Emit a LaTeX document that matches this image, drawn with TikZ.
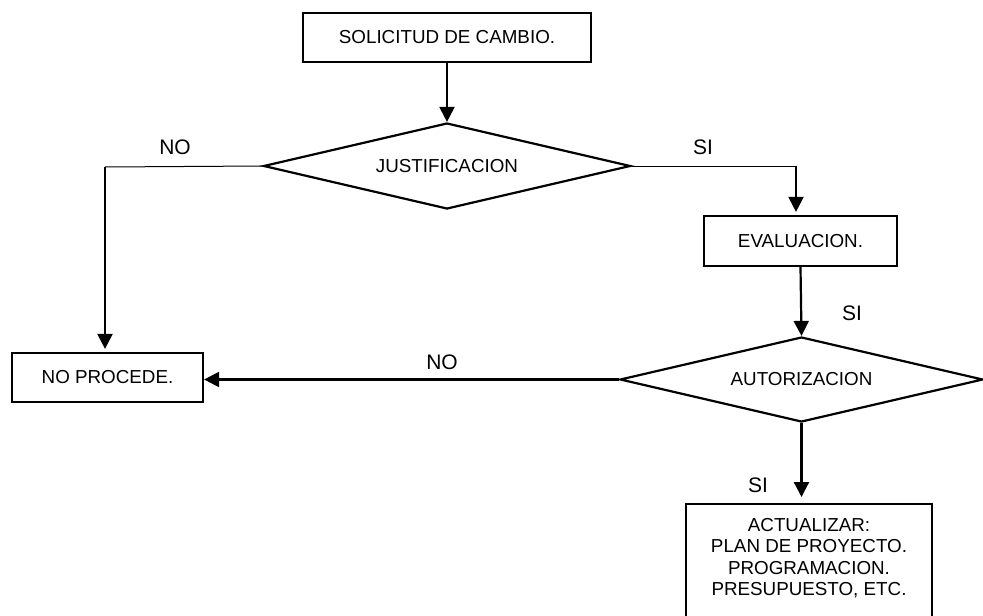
\documentclass[tikz,border=0pt]{standalone}
\usepackage{fontspec}
\setmainfont{Liberation Sans}
\usetikzlibrary{shapes.geometric,arrows.meta}
\begin{document}
\begin{tikzpicture}[x=1pt,y=-1pt,
  every node/.style={font=\fontsize{18.8}{21.4}\selectfont},
  stepbox/.style={draw,line width=2.2pt,inner sep=0pt,minimum height=49pt},
  decision/.style={draw,diamond,line width=2.2pt,inner sep=0pt,shape aspect=4.27},
  flow/.style={line width=2.2pt,-{Triangle[length=15pt,width=15pt]}},
  lead/.style={line width=1pt},
  tag/.style={font=\fontsize{21}{24}\selectfont}
]
\useasboundingbox (0,0) rectangle (983,616);
\clip (0,0) rectangle (983,616);

% process boxes
\node[stepbox,minimum width=288pt] (sol) at (447,37.5) {SOLICITUD DE CAMBIO.};
\node[stepbox,minimum width=191pt] (np)  at (107.5,377.5) {NO PROCEDE.};
\node[stepbox,minimum width=193pt,minimum height=50pt] (ev) at (800.5,241) {EVALUACION.};
\node[stepbox,minimum width=246pt,minimum height=140pt,anchor=north] (act) at (809,503) {};
\node[align=center,anchor=north,inner sep=0pt] (acttext) at (809,518)
  {ACTUALIZAR:\\PLAN DE PROYECTO.\\PROGRAMACION.\\PRESUPUESTO, ETC.};

% decisions
\node[decision,minimum width=367pt,minimum height=86pt] (just) at (447,166) {JUSTIFICACION};
\node[decision,minimum width=363pt,minimum height=85pt] (auth) at (801.5,379.5) {AUTORIZACION};

% connectors
\draw[flow] (sol) -- (just);

\coordinate (cno) at (105,167);
\draw[lead] (just.west) -- (cno);
\draw[flow,shorten >=3pt] (cno) -- (cno |- np.north);

\coordinate (csi) at (796,166);
\draw[lead] (just.east) -- (csi);
\draw[flow,shorten >=3pt] (csi) -- (csi |- ev.north);

\draw[flow] (ev.south) -- (auth.north);

\draw[flow] (auth.west) -- (auth.west -| np.east);

\draw[flow,shorten >=6pt] (auth.south) -- (auth.south |- act.north);

% branch labels
\node[tag] (lno1) at (175,147) {NO};
\node[tag] (lsi1) at (703,147) {SI};
\node[tag] (lsi2) at (852,313) {SI};
\node[tag] (lno2) at (442,362) {NO};
\node[tag] (lsi3) at (758,485) {SI};
\end{tikzpicture}
\end{document}
